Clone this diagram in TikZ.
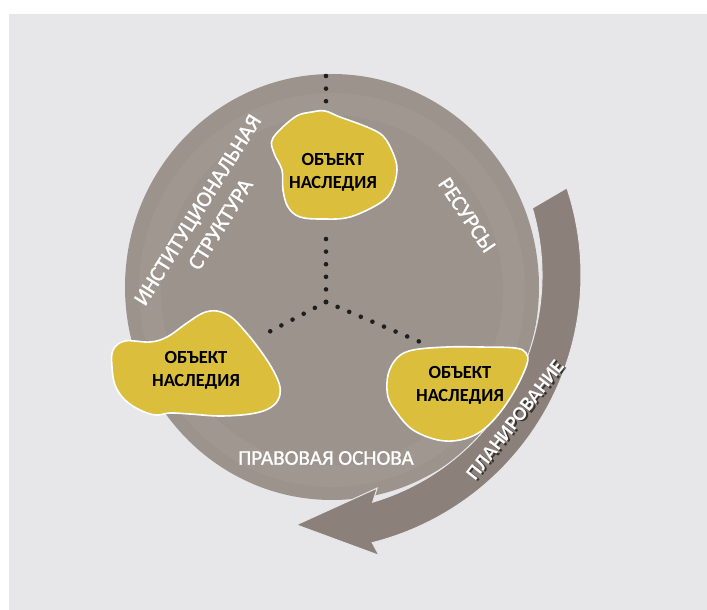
\documentclass[tikz,border=0pt]{standalone}
\usepackage{fontspec}
\setmainfont{Carlito}
\newfontfamily\labelfont[FakeBold=1.1]{Carlito}
\usepackage{xcolor}
\usetikzlibrary{positioning}
\definecolor{bggray}{RGB}{231,231,233}
\definecolor{eggcol}{RGB}{156,147,141}
\definecolor{ringcol}{RGB}{168,160,154}
\definecolor{arrowcol}{RGB}{140,129,122}
\definecolor{heritage}{RGB}{218,190,60}
\definecolor{dotcol}{RGB}{30,30,30}
\tikzstyle{blob} = [fill=heritage, draw=white, line width=1.6pt]
\tikzstyle{objtext} = [align=center, inner sep=0pt, font=\bfseries\fontsize{18.5}{23}\selectfont]
\tikzstyle{sidetext} = [align=center, inner sep=0pt, text=white, font=\labelfont\fontsize{22}{27}\selectfont]
\tikzstyle{dots} = [draw=dotcol, line width=4.6pt, dash pattern=on 0pt off 12.6pt, line cap=round]

\begin{document}
\begin{tikzpicture}[x=1pt, y=-1pt]
	  \useasboundingbox (0,0) rectangle (707,610);
	  \fill[white] (0,0) rectangle (707,610);
	  \fill[bggray] (9,14) rectangle (707,610);

	  % egg with its lighter ring
	  \fill[eggcol] (332,287) ellipse [x radius=207, y radius=213];
	  \draw[ringcol, line width=22pt, opacity=0.35] (332,290) ellipse [x radius=182, y radius=186];

	  % planning arrow
	  \begin{scope}[shift={(305,275)}]
	    \filldraw[fill=arrowcol, draw=bggray, line width=1pt]
	      (-18.4:276) arc[start angle=-18.4, end angle=75.9, radius=276]
	      -- (75.2:290) -- (92:250) -- (71.3:225) -- (73.4:237)
	      arc[start angle=73.4, end angle=-16.4, radius=237] -- cycle;
	  \end{scope}

	  \coordinate (hub) at (326,302);
	  \coordinate (topin) at (326,229);
	  \coordinate (leftin) at (267,333);
	  \coordinate (rightin) at (425,344);
	  \coordinate (topout) at (326,76);
	  \coordinate (topedge) at (326,103);

	  % heritage objects
	  \draw[blob] plot[smooth cycle, tension=0.6] coordinates {(273,138) (295,117) (312,112) (325,111) (340,117) (367,127) (383,136) (393,153) (397,170) (392,190) (380,203) (350,217) (323,219) (300,217) (288,207) (283,190) (282,170) (274,153)};
	  \draw[blob] plot[smooth cycle, tension=0.6] coordinates {(113,350) (125,341) (150,342) (167,337) (187,323) (203,313) (217,311) (231,317) (244,330) (260,350) (273,370) (280,387) (278,400) (268,409) (250,414) (220,416) (190,414) (170,413) (155,415) (138,409) (124,399) (115,385) (112,367)};
	  \draw[blob] plot[smooth cycle, tension=0.6] coordinates {(388,375) (397,358) (413,350) (447,347) (480,347) (515,348) (526,353) (527,364) (515,390) (498,415) (480,432) (460,440) (438,440) (413,430) (397,413) (388,397)};

	  \node [objtext] (objtop) at (333,172) {ОБЪЕКТ\\НАСЛЕДИЯ};
	  \node [objtext] (objleft) at (196,370) {ОБЪЕКТ\\НАСЛЕДИЯ};
	  \node [objtext] (objright) at (460,385) {ОБЪЕКТ\\НАСЛЕДИЯ};

	  % dotted links
	  \draw [dots] (topout) -- (topedge);
	  \draw [dots] (hub) -- (topin);
	  \draw [dots] (hub) -- (leftin);
	  \draw [dots] (hub) -- (rightin);

	  % labels
	  \node [sidetext, rotate=58] (inst) at (209,217) {ИНСТИТУЦИОНАЛЬНАЯ\\СТРУКТУРА};
	  \node [sidetext, rotate=-56] (res) at (467,215) {РЕСУРСЫ};
	  \node [sidetext, font=\labelfont\fontsize{21}{25}\selectfont] (legal) at (326,458) {ПРАВОВАЯ ОСНОВА};
	  \node [sidetext, text=black, opacity=0.6, rotate=52, font=\bfseries\fontsize{20}{24}\selectfont] (planshadow) at (517,421.5) {ПЛАНИРОВАНИЕ};
	  \node [sidetext, rotate=52, font=\bfseries\fontsize{20}{24}\selectfont] (plan) at (515,420) {ПЛАНИРОВАНИЕ};
	\end{tikzpicture}
\end{document}
